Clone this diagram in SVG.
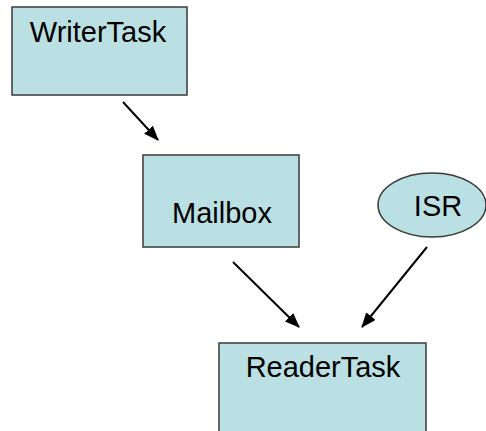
<svg xmlns="http://www.w3.org/2000/svg" width="486" height="431" viewBox="0 0 486 431">
<style>
.box{fill:#bbe0e3;stroke:#3a3a3a;stroke-width:1.5}
.lbl{font-family:"Liberation Sans",Arial,sans-serif;font-size:29px;fill:#000;text-anchor:middle}
.conn{stroke:#000;stroke-width:2;fill:none;marker-end:url(#ah)}
</style>
<defs>
<marker id="ah" markerWidth="15" markerHeight="12" refX="14" refY="6" orient="auto" markerUnits="userSpaceOnUse" viewBox="0 0 15 12">
<path d="M0,0 L15,6 L0,12 z" fill="#000"/>
</marker>
</defs>
<g id="connectors">
<line class="conn" x1="123" y1="102" x2="158" y2="140"/>
<line class="conn" x1="233" y1="262" x2="299" y2="327"/>
<line class="conn" x1="427" y1="247" x2="362" y2="327"/>
</g>
<g id="WriterTask">
<rect class="box" x="12" y="7" width="175" height="88"/>
<text class="lbl" x="98" y="41.5">WriterTask</text>
</g>
<g id="Mailbox">
<rect class="box" x="143" y="155" width="156" height="92"/>
<text class="lbl" x="222" y="223">Mailbox</text>
</g>
<g id="ISR">
<ellipse class="box" cx="432" cy="205" rx="54" ry="32"/>
<text class="lbl" x="438" y="216">ISR</text>
</g>
<g id="ReaderTask">
<rect class="box" x="219" y="343" width="207" height="100"/>
<text class="lbl" x="323" y="377">ReaderTask</text>
</g>
</svg>
